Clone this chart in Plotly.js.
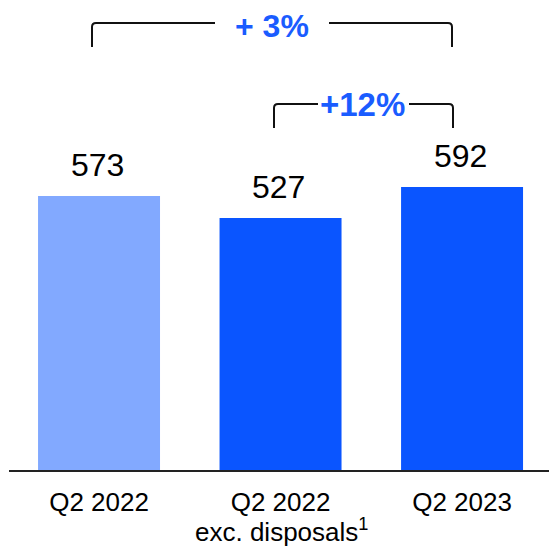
<!DOCTYPE html>
<html>
<head>
<meta charset="utf-8">
<script src="https://cdn.plot.ly/plotly-3.0.1.min.js"></script>
<style>html,body{margin:0;padding:0;background:#fff;}#chart{width:549px;height:546px;}</style>
</head>
<body>
<div id="chart"></div>
<script>
var categories = ["Q2 2022", "Q2 2022 exc. disposals", "Q2 2023"];
var tickLabels = ["Q2 2022", "Q2 2022", "Q2 2023"];
var tickSubLabels = ["", "exc. disposals<sup>1</sup>", ""];
var values = [573, 527, 592];
var barColors = ["#82A9FF", "#0A55FF", "#0A55FF"];
var growthLabels = ["+ 3%", "+12%"];

var W = 549, H = 546;
var M = {l: 9, r: 0, t: 0, b: 76};
var PW = W - M.l - M.r, PH = H - M.t - M.b;
function px(x) { return (x - M.l) / PW; }
function py(y) { return 1 - (y - M.t) / PH; }
var FONT = 'Arial, Liberation Sans, sans-serif';

function bracket(x0, x1, xg0, xg1, yTop, yBot) {
  var r = 4;
  var left = 'M' + px(x0) + ',' + py(yBot) + ' L' + px(x0) + ',' + py(yTop + r) +
    ' Q' + px(x0) + ',' + py(yTop) + ' ' + px(x0 + r) + ',' + py(yTop) +
    ' L' + px(xg0) + ',' + py(yTop);
  var right = 'M' + px(xg1) + ',' + py(yTop) + ' L' + px(x1 - r) + ',' + py(yTop) +
    ' Q' + px(x1) + ',' + py(yTop) + ' ' + px(x1) + ',' + py(yTop + r) +
    ' L' + px(x1) + ',' + py(yBot);
  var st = {type: 'path', xref: 'paper', yref: 'paper', line: {color: '#111111', width: 2}};
  return [Object.assign({path: left}, st), Object.assign({path: right}, st)];
}

var shapes = [].concat(
  bracket(92, 452, 215, 329, 23, 47),
  bracket(274, 453, 318, 409, 104, 128)
);

var annotations = values.map(function (v, i) {
  return {x: i, y: v, xref: 'x', yref: 'y', text: String(v), showarrow: false,
    xanchor: 'center', yanchor: 'middle', yshift: 31, xshift: -2,
    font: {family: FONT, size: 32, color: '#000000'}};
});
tickSubLabels.forEach(function (s, i) {
  if (!s) return;
  annotations.push({x: i, xref: 'x', yref: 'paper', y: py(530.5), text: s, showarrow: false,
    xanchor: 'center', yanchor: 'middle', xshift: 1,
    font: {family: FONT, size: 26, color: '#000000'}});
});
annotations.push({xref: 'paper', yref: 'paper', x: px(272), y: py(26), text: '<b>' + growthLabels[0] + '</b>',
  showarrow: false, xanchor: 'center', yanchor: 'middle',
  font: {family: FONT, size: 32, color: '#1A5CFF'}});
annotations.push({xref: 'paper', yref: 'paper', x: px(362), y: py(104), text: '<b>' + growthLabels[1] + '</b>',
  showarrow: false, xanchor: 'center', yanchor: 'middle',
  font: {family: FONT, size: 33, color: '#1A5CFF'}});

var trace = {
  type: 'bar',
  x: [0, 1, 2],
  y: values,
  marker: {color: barColors, line: {width: 0}},
  width: 0.672,
  hoverinfo: 'skip'
};

var layout = {
  width: W, height: H,
  margin: M,
  paper_bgcolor: '#ffffff', plot_bgcolor: '#ffffff',
  showlegend: false,
  xaxis: {
    range: [-0.496, 2.479],
    tickvals: [0, 1, 2], ticktext: tickLabels,
    showline: true, linecolor: '#222222', linewidth: 2,
    showgrid: false, zeroline: false, ticks: '',
    tickfont: {family: FONT, size: 26, color: '#000000'},
    ticklabelstandoff: 8,
    fixedrange: true
  },
  yaxis: {
    range: [0, 983], visible: false, showgrid: false, zeroline: false, fixedrange: true
  },
  shapes: shapes,
  annotations: annotations
};

Plotly.newPlot('chart', [trace], layout, {displayModeBar: false, staticPlot: true});
</script>
</body>
</html>
